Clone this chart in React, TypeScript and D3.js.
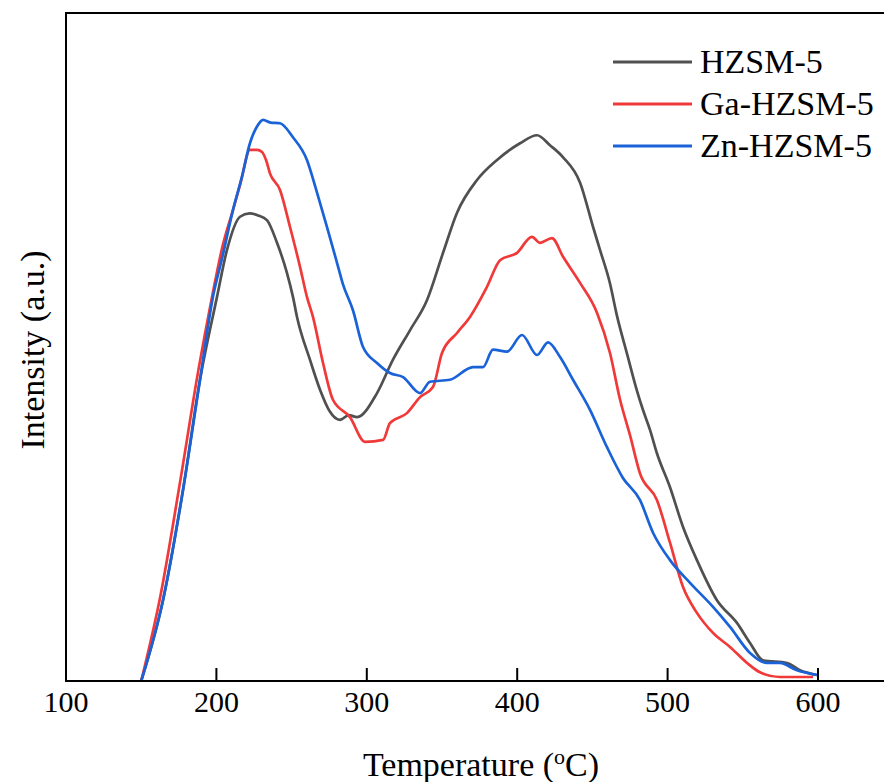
import React from "react";
import * as d3 from "d3";

const seriesNames = ["HZSM-5", "Ga-HZSM-5", "Zn-HZSM-5"];
const seriesColors = ["#505050", "#f03a3a", "#1a62d8"];
const xTicks = [100, 200, 300, 400, 500, 600];

const hzsmT = [150, 164.5, 177.8, 189.1, 200.4, 207, 215.7, 222, 227.7, 233.6, 240.3, 246.9, 250.9, 253.6, 262.2, 268.9, 275, 282.2, 288, 293.5, 306.8, 317.4, 328.7, 340, 350.7, 360, 373.3, 386.6, 401.9, 413.2, 421.8, 430.5, 441.8, 450.4, 455.1, 461.7, 466, 473, 479.7, 483.6, 488.3, 492.9, 501.6, 510.2, 519.5, 532.8, 546.1, 554.8, 563.4, 579.4, 588, 599.3];
const hzsmI = [0, 12.1, 28.6, 45.1, 57.5, 64.5, 69.5, 70.0, 69.7, 69.0, 65.6, 61.1, 57.5, 54.5, 48.1, 43.6, 40.5, 39.1, 39.8, 39.5, 43.1, 48.1, 52.5, 57.0, 64.1, 70.1, 75.0, 78.0, 80.5, 81.7, 80.2, 78.4, 74.6, 68.0, 64.5, 59.5, 55.0, 49.0, 43.4, 40.6, 37.6, 34.1, 29.0, 23.1, 18.1, 12.1, 8.7, 5.7, 3.1, 2.7, 1.6, 0.9];

const gaT = [150, 163, 176, 188, 197.1, 204, 211, 216, 222.3, 227, 230.3, 233, 235.6, 242.3, 248.9, 255.6, 260.2, 264.2, 270.9, 277.5, 288.8, 298.8, 310.8, 315.4, 326.7, 335.4, 344, 350, 360, 368.6, 379.9, 388.6, 399.9, 409.8, 415.2, 423.1, 430.5, 441.8, 453.1, 461.7, 468.4, 475, 481.6, 492.9, 501.6, 510.2, 519.5, 530.2, 541.5, 552.8, 561.4, 574.7, 596.7];
const gaI = [0, 13, 30, 46.5, 57.5, 65, 70.5, 74.5, 79.5, 79.5, 79.2, 78, 76.0, 73.5, 68.0, 62.0, 57.5, 54.5, 47.6, 42.1, 39.5, 35.8, 36.1, 38.6, 40.1, 42.5, 44.0, 49.1, 52.1, 54.5, 59.0, 63.0, 64.1, 66.5, 65.6, 66.3, 63.5, 59.6, 55.1, 49.1, 42.1, 36.8, 31.1, 27.1, 20.7, 14.1, 10.2, 7.2, 5.1, 2.7, 1.3, 0.6, 0.6];

const znT = [150, 164.5, 177.8, 189.1, 197.7, 204, 211, 217, 222.3, 227, 231, 236, 242.3, 250.9, 260.2, 266.9, 273.5, 280.2, 284, 290.8, 297.5, 306.8, 315.4, 324.1, 335.4, 342, 355.3, 370.6, 377.3, 383.9, 393.2, 403.2, 413.2, 420.5, 428.5, 437.1, 448.4, 459.7, 470.3, 481.6, 490.3, 501.6, 514.9, 530.2, 541.5, 554.8, 566.1, 574.7, 586, 599.3];
const znI = [0, 12.1, 28.6, 45.1, 57.5, 63.5, 70.5, 75.5, 80.5, 83, 84.0, 83.6, 83.5, 81.4, 78.0, 73.1, 68.0, 62.6, 59.5, 55.5, 50.0, 47.6, 46.1, 45.5, 43.1, 44.8, 45.1, 47.0, 47.0, 49.6, 49.3, 51.8, 48.8, 50.7, 48.5, 45.1, 40.6, 35.0, 30.4, 27.1, 22.2, 18.1, 14.7, 11.1, 8.1, 4.2, 2.7, 2.7, 1.6, 0.9];

const W = 884;
const H = 782;
const left = 66;
const top = 13;
const bottom = 681;
const rightFrame = 900;

export default function App() {
  const x = d3.scaleLinear().domain([100, 600]).range([left, 818]);
  const y = d3.scaleLinear().domain([0, 100]).range([bottom, top]);
  const line = d3
    .line<[number, number]>()
    .x((d) => x(d[0]))
    .y((d) => y(d[1]))
    .curve(d3.curveMonotoneX);
  const series = [
    hzsmT.map((t, i) => [t, hzsmI[i]] as [number, number]),
    gaT.map((t, i) => [t, gaI[i]] as [number, number]),
    znT.map((t, i) => [t, znI[i]] as [number, number]),
  ];
  const font = "'Liberation Serif', 'Times New Roman', serif";
  return (
    <svg
      width={W}
      height={H}
      style={{ position: "absolute", left: 0, top: 0, background: "#fff" }}
      fontFamily={font}
    >
      <rect x={0} y={0} width={W} height={H} fill="#fff" />
      <clipPath id="plotclip">
        <rect x={left} y={top - 2} width={rightFrame - left} height={bottom - top + 2} />
      </clipPath>
      <g clipPath="url(#plotclip)">
        {series.map((s, i) => (
          <path
            key={i}
            d={line(s) || ""}
            fill="none"
            stroke={seriesColors[i]}
            strokeWidth={2.7}
            strokeLinejoin="round"
          />
        ))}
      </g>
      <path
        d={`M${rightFrame},${top}H${left}V${bottom}H${rightFrame}`}
        fill="none"
        stroke="#000"
        strokeWidth={2}
      />
      {xTicks.map((t) => (
        <g key={t}>
          <line x1={x(t)} x2={x(t)} y1={bottom} y2={bottom - 13} stroke="#000" strokeWidth={2} />
          <text x={x(t)} y={712} textAnchor="middle" fontSize={30} fill="#000">
            {t}
          </text>
        </g>
      ))}
      <text x={481} y={776} textAnchor="middle" fontSize={34} fill="#000">
        Temperature (<tspan dy={-12} fontSize={22}>o</tspan>
        <tspan dy={12}>C)</tspan>
      </text>
      <text
        transform={`translate(44,350) rotate(-90)`}
        textAnchor="middle"
        fontSize={34}
        fill="#000"
      >
        Intensity (a.u.)
      </text>
      {seriesNames.map((n, i) => (
        <g key={n}>
          <line
            x1={613}
            x2={692}
            y1={62 + i * 42}
            y2={62 + i * 42}
            stroke={seriesColors[i]}
            strokeWidth={3}
          />
          <text x={700} y={73 + i * 42} fontSize={34} fill="#000">
            {n}
          </text>
        </g>
      ))}
    </svg>
  );
}
